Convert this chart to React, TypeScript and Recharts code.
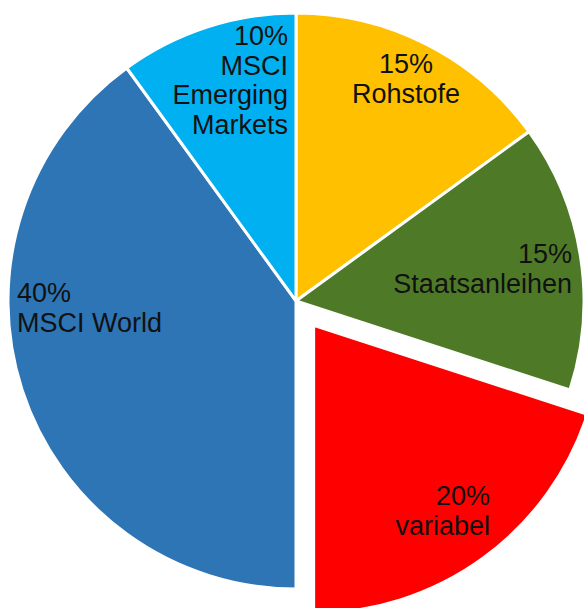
import { Cell, Pie, PieChart } from "recharts";

// Portfolio split, clockwise from 12 o'clock.
const SLICE_NAMES = ["Rohstofe", "Staatsanleihen", "variabel", "MSCI World", "MSCI Emerging Markets"];
const SLICE_VALUES = [15, 15, 20, 40, 10];
// Label text as it wraps in the reference (value line first).
const LABEL_LINES = [
  ["15%", "Rohstofe"],
  ["15%", "Staatsanleihen"],
  ["20%", "variabel"],
  ["40%", "MSCI World"],
  ["10%", "MSCI", "Emerging", "Markets"],
];
const EXPLODED = "variabel";

const SLICE_COLORS = ["#FFC000", "#4E7A28", "#FF0000", "#2E75B6", "#00B0F0"];

const W = 584;
const H = 608;
const CX = 296;
const CY = 301;
const R = 288;
const EXPLODE = 30;
const LINE_H = 29.5;

// Where each label block sits relative to the pie centre (first baseline).
const LABEL_LAYOUT: { dx: number; dy: number; anchor: "start" | "middle" | "end" }[] = [
  { dx: 110, dy: -228, anchor: "middle" },
  { dx: 276, dy: -38, anchor: "end" },
  { dx: 194, dy: 204, anchor: "end" },
  { dx: -279, dy: 1, anchor: "start" },
  { dx: -8, dy: -256, anchor: "end" },
];

const data = SLICE_NAMES.map((name, i) => ({ name, value: SLICE_VALUES[i] }));
const explodedIdx = SLICE_NAMES.indexOf(EXPLODED);

// offset of the pulled-out slice along its mid angle
const total = SLICE_VALUES.reduce((s, v) => s + v, 0);
const before = SLICE_VALUES.slice(0, explodedIdx).reduce((s, v) => s + v, 0);
const midFrac = (before + SLICE_VALUES[explodedIdx] / 2) / total;
const midRad = midFrac * 2 * Math.PI;
const offX = Math.sin(midRad) * EXPLODE;
const offY = -Math.cos(midRad) * EXPLODE;

function renderLabel(props: any) {
  const i = props.index;
  const layout = LABEL_LAYOUT[i];
  const x = CX + layout.dx;
  const y = CY + layout.dy;
  return (
    <text
      x={x}
      y={y}
      textAnchor={layout.anchor}
      fill="#111"
      fontSize={27}
      fontFamily="'Liberation Sans', Arial, sans-serif"
    >
      {LABEL_LINES[i].map((line, j) => (
        <tspan key={j} x={x} y={y + j * LINE_H}>
          {line}
        </tspan>
      ))}
    </text>
  );
}

export default function App() {
  return (
    <div style={{ width: W, height: H, background: "#fff" }}>
      <style>{`body{margin:0}`}</style>
      <PieChart width={W} height={H} margin={{ top: 0, right: 0, bottom: 0, left: 0 }}>
        <Pie
          data={data}
          dataKey="value"
          nameKey="name"
          cx={CX}
          cy={CY}
          outerRadius={R}
          startAngle={90}
          endAngle={-270}
          stroke="#fff"
          strokeWidth={3}
          labelLine={false}
          isAnimationActive={false}
        >
          {data.map((d, i) => (
            <Cell
              key={d.name}
              fill={i === explodedIdx ? "transparent" : SLICE_COLORS[i]}
              stroke={i === explodedIdx ? "none" : "#fff"}
            />
          ))}
        </Pie>
        <Pie
          data={data}
          dataKey="value"
          nameKey="name"
          cx={CX + offX}
          cy={CY + offY}
          outerRadius={R}
          startAngle={90}
          endAngle={-270}
          strokeWidth={3}
          label={renderLabel}
          labelLine={false}
          isAnimationActive={false}
        >
          {data.map((d, i) => (
            <Cell
              key={d.name}
              fill={i === explodedIdx ? SLICE_COLORS[i] : "transparent"}
              stroke={i === explodedIdx ? "#fff" : "none"}
            />
          ))}
        </Pie>
      </PieChart>
    </div>
  );
}
